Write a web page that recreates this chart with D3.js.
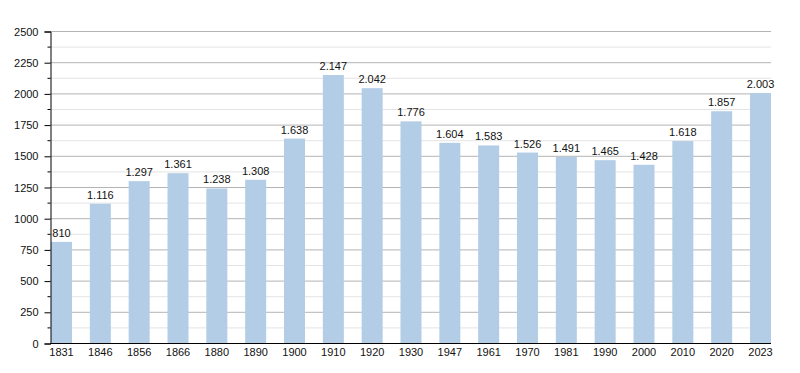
<!DOCTYPE html>
<html>
<head>
<meta charset="utf-8">
<script src="https://cdn.jsdelivr.net/npm/d3@7"></script>
<style>
  body { margin: 0; background: #fff; }
  text { font-family: "Liberation Sans", Arial, sans-serif; }
</style>
</head>
<body>
<div id="chart"></div>
<script>
const years = ["1831", "1846", "1856", "1866", "1880", "1890", "1900", "1910", "1920", "1930",
  "1947", "1961", "1970", "1981", "1990", "2000", "2010", "2020", "2023"];
const population = [810, 1116, 1297, 1361, 1238, 1308, 1638, 2147, 2042, 1776,
  1604, 1583, 1526, 1491, 1465, 1428, 1618, 1857, 2003];
const majorTicks = [0, 250, 500, 750, 1000, 1250, 1500, 1750, 2000, 2250, 2500];
const minorTicks = [125, 375, 625, 875, 1125, 1375, 1625, 1875, 2125, 2375];

const width = 800, height = 373;
const margin = { left: 50, right: 771, top: 31, bottom: 343 };

const svg = d3.select("#chart")
  .append("svg")
  .attr("width", width)
  .attr("height", height);

const xScale = d3.scaleBand()
  .domain(years)
  .range([margin.left + 1, margin.right])
  .paddingInner(0.459)
  .paddingOuter(0);

const yScale = d3.scaleLinear().domain([0, 2500]).range([margin.bottom, margin.top]);

// gridlines
svg.append("g")
  .selectAll("line")
  .data(minorTicks)
  .join("line")
  .attr("x1", margin.left).attr("x2", margin.right)
  .attr("y1", d => yScale(d) + 0.5).attr("y2", d => yScale(d) + 0.5)
  .attr("stroke", "#e4e4e4");

svg.append("g")
  .selectAll("line")
  .data(majorTicks.slice(1))
  .join("line")
  .attr("x1", margin.left).attr("x2", margin.right)
  .attr("y1", d => yScale(d) + 0.5).attr("y2", d => yScale(d) + 0.5)
  .attr("stroke", "#b4b4b4");

// bars
svg.append("g")
  .selectAll("rect")
  .data(population)
  .join("rect")
  .attr("x", (d, i) => xScale(years[i]))
  .attr("y", d => yScale(d))
  .attr("width", xScale.bandwidth())
  .attr("height", d => margin.bottom - yScale(d))
  .attr("fill", "#b3cde6");

// value labels
const fmt = d => d >= 1000 ? Math.floor(d / 1000) + "." + String(d % 1000).padStart(3, "0") : String(d);
svg.append("g")
  .selectAll("text")
  .data(population)
  .join("text")
  .attr("x", (d, i) => xScale(years[i]) + xScale.bandwidth() / 2)
  .attr("y", d => yScale(d) - 5)
  .attr("text-anchor", "middle")
  .attr("font-size", 11)
  .attr("fill", "#111")
  .text(fmt);

// y axis
const yAxis = svg.append("g")
  .attr("transform", `translate(${margin.left + 0.5}, 0.5)`)
  .call(d3.axisLeft(yScale).tickValues(majorTicks).tickSize(6).tickPadding(6).tickFormat(d3.format("d")));
yAxis.select(".domain").attr("stroke", "#000");
yAxis.selectAll("text").attr("font-size", 11).attr("fill", "#111").style("font-family", "Liberation Sans, Arial, sans-serif");

svg.append("g")
  .attr("transform", `translate(${margin.left + 0.5}, 0.5)`)
  .selectAll("line")
  .data(minorTicks)
  .join("line")
  .attr("x1", -3).attr("x2", 0)
  .attr("y1", d => yScale(d)).attr("y2", d => yScale(d))
  .attr("stroke", "#000");

// x axis
const xAxis = svg.append("g")
  .attr("transform", `translate(0, ${margin.bottom + 0.5})`)
  .call(d3.axisBottom(xScale).tickSize(0).tickPadding(5).tickSizeOuter(0));
xAxis.select(".domain").attr("stroke", "#000").attr("d", `M${margin.left},0H${margin.right}`);
xAxis.selectAll("text").attr("font-size", 11).attr("fill", "#111").style("font-family", "Liberation Sans, Arial, sans-serif");
</script>
</body>
</html>
